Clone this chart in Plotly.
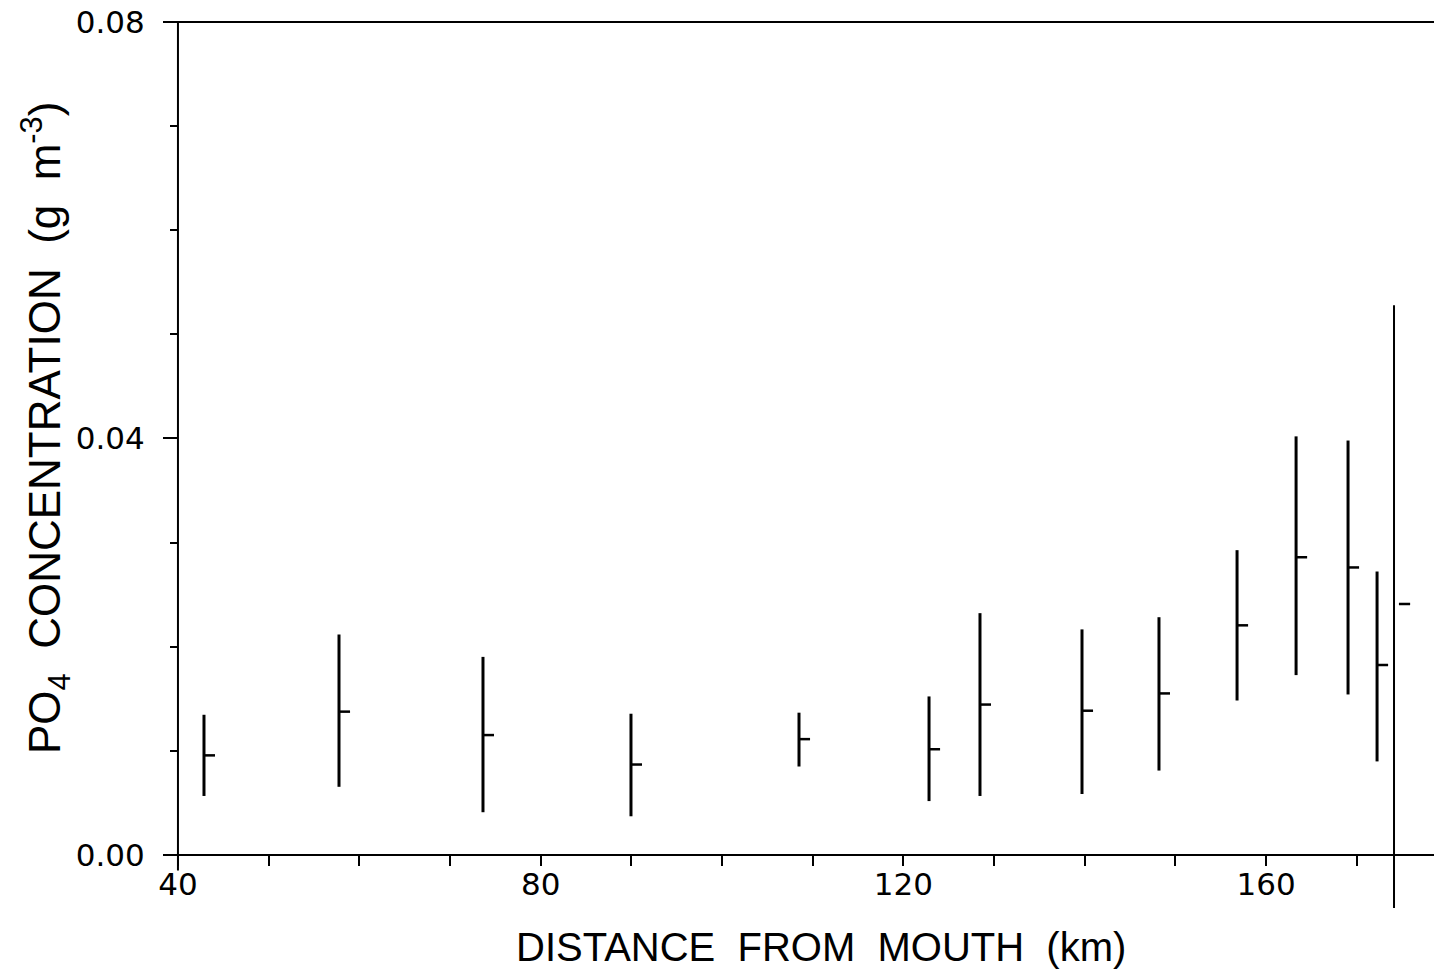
import plotly.graph_objects as go

# ---- data ----
distance_km = [42.87, 57.76, 73.64, 89.96, 108.49, 122.83, 128.45, 139.70,
               148.19, 156.80, 163.31, 169.04, 172.24, 174.67]
po4_mean = [0.00956, 0.01376, 0.01151, 0.00868, 0.01112, 0.01015, 0.01444,
            0.01385, 0.01551, 0.02205, 0.02859, 0.02761, 0.01824, 0.02410]
po4_max = [0.01346, 0.02117, 0.01902, 0.01356, 0.01366, 0.01522, 0.02322,
           0.02166, 0.02283, 0.02927, 0.04020, 0.03980, 0.02722, None]
po4_min = [0.00566, 0.00654, 0.00410, 0.00371, 0.00849, 0.00517, 0.00566,
           0.00585, 0.00810, 0.01483, 0.01727, 0.01541, 0.00898, None]
marker_line_km = 174.11
marker_line_y = [-0.0051, 0.0528]

x_major_ticks = [40, 80, 120, 160]
y_major_ticks = [0.0, 0.04, 0.08]
y_tick_labels = ["0.00", "0.04", "0.08"]
x_title = "DISTANCE\u00a0 FROM\u00a0 MOUTH\u00a0 (km)"
y_title = "PO<sub>4</sub>\u00a0 CONCENTRATION\u00a0 (g\u00a0 m<sup>-3</sup>)"

# ---- axis ranges ----
X_RANGE = [38.35, 178.52]
Y_RANGE = [-0.0051, 0.08]
MEAN_OFFSET_KM = 0.6

# range bars built from the data
bar_x, bar_y = [], []
for d, lo, hi in zip(distance_km, po4_min, po4_max):
    if lo is None or hi is None:
        continue
    bar_x += [d, d, None]
    bar_y += [lo, hi, None]

fig = go.Figure()
fig.add_trace(go.Scatter(x=bar_x, y=bar_y, mode="lines",
                         line=dict(color="black", width=3),
                         showlegend=False, hoverinfo="skip"))
fig.add_trace(go.Scatter(x=[d + MEAN_OFFSET_KM for d in distance_km], y=po4_mean,
                         mode="markers",
                         marker=dict(symbol="line-ew", size=8, color="black",
                                     line=dict(color="black", width=2.5)),
                         showlegend=False))
fig.add_trace(go.Scatter(x=[marker_line_km, marker_line_km], y=marker_line_y,
                         mode="lines", line=dict(color="black", width=2),
                         showlegend=False, hoverinfo="skip"))

x_pos = (0 - Y_RANGE[0]) / (Y_RANGE[1] - Y_RANGE[0])
y_pos = (40 - X_RANGE[0]) / (X_RANGE[1] - X_RANGE[0])

tick_font = dict(family="DejaVu Sans", size=31, color="black")
title_font = dict(family="Liberation Sans", size=40, color="black")

# page body has an 8px margin; size the figure so no scrollbars appear
W, H = 1426, 963
ML, MT, MR, MB = 155, 14, 0, 63
plot_w = W - ML - MR
plot_h = H - MT - MB

fig.update_layout(
    width=W, height=H,
    margin=dict(l=ML, r=MR, t=MT, b=MB),
    paper_bgcolor="white", plot_bgcolor="white",
    xaxis=dict(range=X_RANGE, anchor="free", position=x_pos,
               showline=True, linecolor="black", linewidth=2,
               showgrid=False, zeroline=False,
               tickmode="array", tickvals=x_major_ticks,
               ticks="outside", ticklen=10, tickwidth=2, tickcolor="black",
               ticklabelstandoff=-8, ticklabeloverflow="allow",
               minor=dict(dtick=10, tick0=40, ticks="outside", ticklen=10,
                          tickwidth=2, tickcolor="black", showgrid=False),
               tickfont=tick_font, automargin=False),
    yaxis=dict(range=Y_RANGE, anchor="free", position=y_pos,
               showline=False, showgrid=False, zeroline=False,
               tickmode="array", tickvals=y_major_ticks, ticktext=y_tick_labels,
               ticks="outside", ticklen=15, tickwidth=2, tickcolor="black",
               ticklabelstandoff=12, ticklabeloverflow="allow",
               minor=dict(dtick=0.01, tick0=0, ticks="outside", ticklen=8,
                          tickwidth=2, tickcolor="black", showgrid=False),
               tickfont=tick_font, automargin=False),
    shapes=[
        dict(type="line", xref="x", yref="y", x0=40, x1=40, y0=-0.0015, y1=0.08,
             line=dict(color="black", width=2)),
        dict(type="line", xref="x", yref="paper", x0=X_RANGE[0], x1=X_RANGE[1],
             y0=1, y1=1, line=dict(color="black", width=2)),
    ],
    annotations=[
        dict(text=x_title, xref="paper", yref="paper",
             x=(821 - 8 - ML) / plot_w, y=-(947 - 8 - MT - plot_h) / plot_h,
             xanchor="center", yanchor="middle", showarrow=False, font=title_font),
        dict(text=y_title, xref="paper", yref="paper", textangle=-90,
             x=(45 - 8 - ML) / plot_w, y=1 - (428 - 8 - MT) / plot_h,
             xanchor="center", yanchor="middle", showarrow=False,
             font=dict(family="Liberation Sans", size=44, color="black")),
    ],
)

fig.write_html("out.html")
